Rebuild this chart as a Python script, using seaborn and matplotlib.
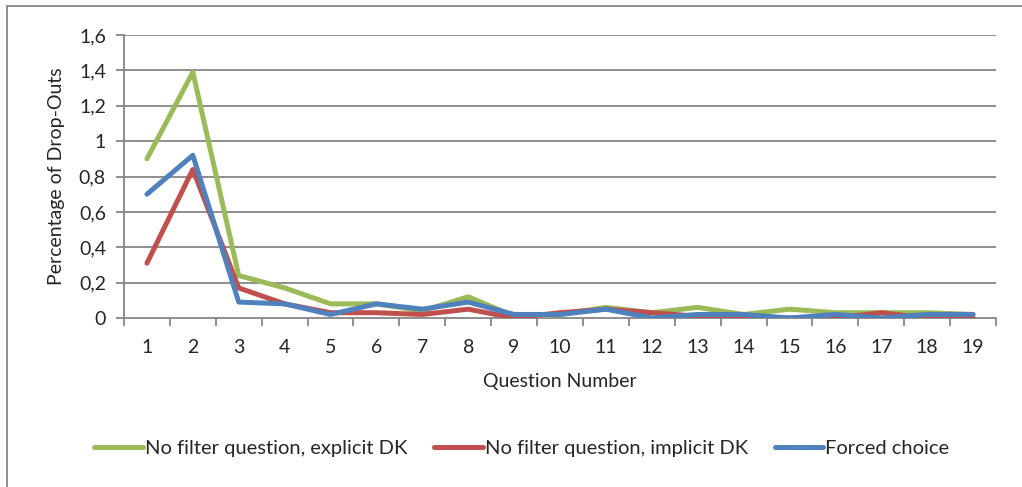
import matplotlib
matplotlib.use("Agg")
import matplotlib.pyplot as plt
from matplotlib.lines import Line2D
import numpy as np
import pandas as pd
import seaborn as sns

questions = list(range(1, 20))
explicit_dk = [0.90, 1.39, 0.24, 0.17, 0.08, 0.08, 0.04, 0.12, 0.01, 0.02,
               0.06, 0.03, 0.06, 0.02, 0.05, 0.03, 0.03, 0.03, 0.02]
implicit_dk = [0.31, 0.84, 0.17, 0.08, 0.03, 0.03, 0.02, 0.05, 0.00, 0.03,
               0.05, 0.03, 0.01, 0.00, 0.00, 0.00, 0.03, 0.00, 0.00]
forced_choice = [0.70, 0.92, 0.09, 0.08, 0.02, 0.08, 0.05, 0.09, 0.02, 0.02,
                 0.05, 0.00, 0.02, 0.02, 0.00, 0.02, 0.00, 0.02, 0.02]
series_names = ["No filter question, explicit DK",
                "No filter question, implicit DK",
                "Forced choice"]
colors = ["#9BBB59", "#C0504D", "#4F81BD"]
y_ticks = [0, 0.2, 0.4, 0.6, 0.8, 1.0, 1.2, 1.4, 1.6]
y_tick_labels = ["0", "0,2", "0,4", "0,6", "0,8", "1", "1,2", "1,4", "1,6"]

df = pd.DataFrame({
    "Question": questions * 3,
    "Value": explicit_dk + implicit_dk + forced_choice,
    "Series": [series_names[0]] * 19 + [series_names[1]] * 19 + [series_names[2]] * 19,
})

sns.set_style("white")
plt.rcParams["font.family"] = ["Lato", "DejaVu Sans"]

fig = plt.figure(figsize=(10.22, 4.87), dpi=100)
ax = fig.add_axes([124 / 1022, 1 - 318 / 487, (996 - 124) / 1022, (318 - 35) / 487])

grid_col = "#868686"
lw_series = 3.6
fs = 14

for yv in y_ticks[1:]:
    ax.axhline(yv, color=grid_col, lw=1.3, zorder=0)

sns.lineplot(data=df, x="Question", y="Value", hue="Series",
             palette=colors, hue_order=series_names, lw=lw_series,
             legend=False, ax=ax, zorder=3)

ax.set_xlim(0.5, 19.5)
ax.set_ylim(0, 1.6)
ax.set_xticks(questions)
ax.set_xticklabels([str(q) for q in questions], fontsize=fs)
ax.set_xticks(np.arange(0.5, 20, 1), minor=True)
ax.tick_params(axis="x", which="major", length=0, pad=15)
ax.tick_params(axis="x", which="minor", length=6, width=1.3, color=grid_col, direction="out")
ax.set_yticks(y_ticks)
ax.set_yticklabels(y_tick_labels, fontsize=fs)
ax.tick_params(axis="y", which="major", length=6, width=1.3, color=grid_col,
               direction="out", pad=7)
ax.yaxis.set_ticks_position("left")
ax.xaxis.set_ticks_position("bottom")

for side in ["top", "right"]:
    ax.spines[side].set_visible(False)
for side in ["left", "bottom"]:
    ax.spines[side].set_color(grid_col)
    ax.spines[side].set_linewidth(1.3)

ax.set_xlabel("Question Number", fontsize=fs, labelpad=12)
ax.set_ylabel("Percentage of Drop-Outs", fontsize=fs, labelpad=10)

handles = [Line2D([0], [0], color=c, lw=lw_series) for c in colors]
fig.legend(handles, series_names, loc="center", ncol=3,
           bbox_to_anchor=(522 / 1022, 1 - 448 / 487), frameon=False, fontsize=14.5,
           handlelength=2.4, handletextpad=0.1, columnspacing=1.35)

# outer chart frame
fig.add_artist(Line2D([7 / 1022, 7 / 1022], [0, 1 - 6 / 487], color=grid_col, lw=1.3,
                      transform=fig.transFigure))
fig.add_artist(Line2D([7 / 1022, 1], [1 - 6 / 487, 1 - 6 / 487], color=grid_col, lw=1.3,
                      transform=fig.transFigure))

fig.savefig("out.png", dpi=100)
